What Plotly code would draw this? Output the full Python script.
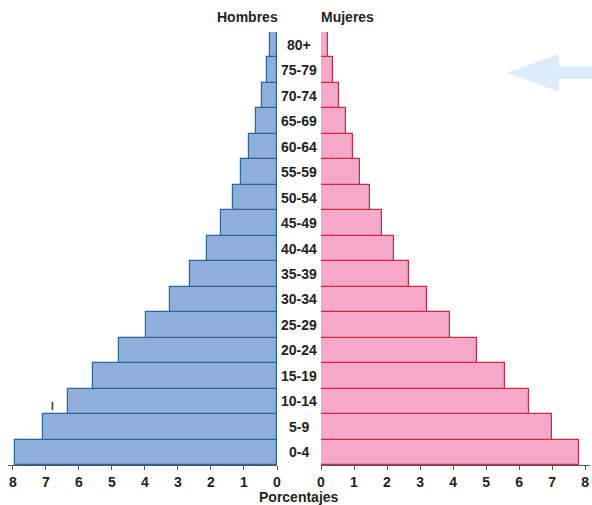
import plotly.graph_objects as go

ages = ["0-4", "5-9", "10-14", "15-19", "20-24", "25-29", "30-34", "35-39",
        "40-44", "45-49", "50-54", "55-59", "60-64", "65-69", "70-74", "75-79", "80+"]
hombres = [7.93, 7.09, 6.32, 5.56, 4.78, 3.96, 3.24, 2.63, 2.12, 1.69, 1.33,
           1.09, 0.85, 0.63, 0.46, 0.29, 0.22]
mujeres = [7.81, 7.01, 6.30, 5.58, 4.72, 3.92, 3.21, 2.68, 2.22, 1.85, 1.49,
           1.19, 0.96, 0.76, 0.55, 0.36, 0.22]
ticks = [0, 1, 2, 3, 4, 5, 6, 7, 8]

W, H = 592, 505
ML, MR, MT, MB = 0, 0, 32, 40
plot_h = H - MT - MB

def px(x):
    return x / W

def py(y):
    return (H - MB - y) / plot_h

FONT = "Liberation Sans, Arial, sans-serif"
TXT = "#231f20"

fig = go.Figure()
fig.add_trace(go.Bar(
    y=ages, x=hombres, orientation="h", xaxis="x", yaxis="y",
    marker=dict(color="rgb(143,174,219)", line=dict(color="rgb(38,104,152)", width=1.2)),
    width=1.0, showlegend=False))
fig.add_trace(go.Bar(
    y=ages, x=mujeres, orientation="h", xaxis="x2", yaxis="y2",
    marker=dict(color="rgb(244,168,202)", line=dict(color="rgb(212,40,62)", width=1.2)),
    width=1.0, showlegend=False))

axis_common = dict(
    tickvals=ticks, ticktext=[str(t) for t in ticks],
    showgrid=False, zeroline=False, showline=True, linecolor="#555555", linewidth=1.2,
    ticks="outside", ticklen=4, tickwidth=1.2, tickcolor="#555555", automargin=False,
    tickfont=dict(family=FONT, size=14, color=TXT, weight="bold"),
)
fig.update_layout(
    width=W, height=H,
    margin=dict(l=ML, r=MR, t=MT, b=MB, autoexpand=False),
    paper_bgcolor="white", plot_bgcolor="white",
    bargap=0,
    xaxis=dict(domain=[px(8), px(277)], range=[8.15, 0], anchor="y", **axis_common),
    xaxis2=dict(domain=[px(321), px(590)], range=[0, 8.15], anchor="y2", **axis_common),
    yaxis=dict(domain=[0, 1], range=[-0.5, 16.5], showticklabels=False, showgrid=False,
               zeroline=False, showline=False, ticks="", automargin=False,
               categoryorder="array", categoryarray=ages),
    yaxis2=dict(domain=[0, 1], range=[-0.5, 16.5], showticklabels=False, showgrid=False,
                zeroline=False, showline=False, ticks="", anchor="x2", automargin=False,
                categoryorder="array", categoryarray=ages),
)

annotations = []
for a in ages:
    annotations.append(dict(x=px(299), y=a, xref="paper", yref="y", text=a, showarrow=False,
                            font=dict(family=FONT, size=14, color=TXT, weight="bold"),
                            xanchor="center", yanchor="middle"))
annotations.append(dict(x=px(247), y=py(17), xref="paper", yref="paper", text="Hombres",
                        showarrow=False, font=dict(family=FONT, size=14, color=TXT, weight="bold"),
                        xanchor="center", yanchor="middle"))
annotations.append(dict(x=px(347), y=py(17), xref="paper", yref="paper", text="Mujeres",
                        showarrow=False, font=dict(family=FONT, size=14, color=TXT, weight="bold"),
                        xanchor="center", yanchor="middle"))
annotations.append(dict(x=px(299), y=py(497), xref="paper", yref="paper", text="Porcentajes",
                        showarrow=False, font=dict(family=FONT, size=14, color=TXT, weight="bold"),
                        xanchor="center", yanchor="middle"))
annotations.append(dict(x=px(52), y=py(406), xref="paper", yref="paper", text="I",
                        showarrow=False, font=dict(family=FONT, size=10, color="#333333", weight="bold"),
                        xanchor="center", yanchor="middle"))
fig.update_layout(annotations=annotations)

# light blue arrow (decorative)
pts = [(507, 72.5), (559, 54), (559, 66.5), (592, 66.5), (592, 79), (559, 79), (559, 92)]
path = "M " + " L ".join(f"{px(x)},{py(y)}" for x, y in pts) + " Z"
fig.add_shape(type="path", path=path, xref="paper", yref="paper",
              fillcolor="rgb(220,236,250)", line=dict(width=0), layer="below")

fig.write_html("out.html", config={"displayModeBar": False})

# remove the browser's default page margin so the figure fills the window exactly
with open("out.html", "r", encoding="utf-8") as f:
    html = f.read()
html = html.replace("<head>", "<head><style>html,body{margin:0;padding:0;overflow:hidden;}</style>", 1)
with open("out.html", "w", encoding="utf-8") as f:
    f.write(html)
